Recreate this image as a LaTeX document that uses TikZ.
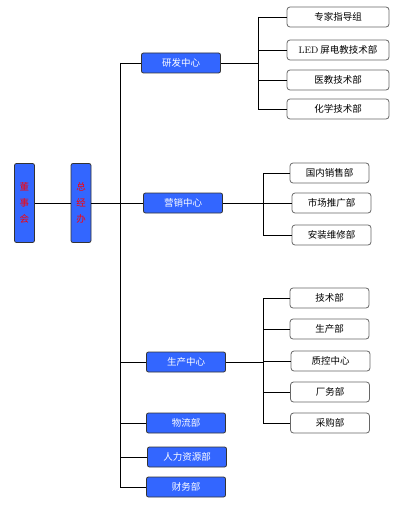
\documentclass[tikz,border=0pt]{standalone}
\usepackage{fontspec}
\newfontfamily\cjk{Noto Sans CJK SC}
\usetikzlibrary{positioning,calc}
\definecolor{boxblue}{HTML}{3366FF}

\begin{document}
\begin{tikzpicture}[
  x=1pt, y=-1pt,
  top/.style={draw=black!80, fill=boxblue, rounded corners=2pt, line width=0.8pt,
    minimum width=20pt, minimum height=79pt, inner sep=0pt, align=center,
    text=red, font=\cjk\fontsize{9.5}{16}\selectfont},
  ctr/.style={draw=black!80, fill=boxblue, rounded corners=2pt, line width=0.8pt,
    minimum width=79pt, minimum height=20pt, inner sep=0pt,
    text=white, font=\cjk\fontsize{9.5}{11}\selectfont},
  dept/.style={draw=black!60, fill=white, rounded corners=3pt, line width=0.8pt,
    minimum width=79pt, minimum height=20pt, inner sep=0pt,
    font=\cjk\fontsize{9.5}{11}\selectfont},
  link/.style={line width=0.8pt},
]
\useasboundingbox (0,0) rectangle (404,513);
% --- top level ---
\node[top] (dsh) at (24.5,203) {董\\事\\会};
\node[top] (zjb) at (81,203) {总\\经\\办};
\draw[link] (dsh) -- (zjb);
% --- centres ---
\node[ctr] (yf) at (181,63) {研发中心};
\node[ctr] (yx) at (183,203) {营销中心};
\node[ctr] (sc) at (186,362) {生产中心};
\node[ctr] (wl) at (186,423) {物流部};
\node[ctr] (rl) at (187,457) {人力资源部};
\node[ctr] (cw) at (186,487) {财务部};
\coordinate (sp) at (120,0);
\draw[link] (zjb.east) -- (yx.west);
\draw[link] (yf.west -| sp) -- (cw.west -| sp);
\foreach \n in {yf,sc,wl,rl,cw}
  \draw[link] (\n.west) -- (\n.west -| sp);
% --- research ---
\node[dept, minimum width=102pt] (zj) at (338,17) {专家指导组};
\node[dept, minimum width=102pt] (led) at (338,50) {{\rmfamily LED} 屏电教技术部};
\node[dept, minimum width=102pt] (yj) at (338,80) {医教技术部};
\node[dept, minimum width=102pt] (hx) at (338,109) {化学技术部};
\coordinate (b1) at (258,0);
\draw[link] (yf.east) -- (yf.east -| b1);
\draw[link] (zj.west -| b1) -- (hx.west -| b1);
\foreach \n in {zj,led,yj,hx}
  \draw[link] (\n.west) -- (\n.west -| b1);
% --- marketing ---
\node[dept] (gn) at (329.5,173) {国内销售部};
\node[dept] (tg) at (331.5,203) {市场推广部};
\node[dept] (az) at (331.5,235) {安装维修部};
\coordinate (b2) at (263,0);
\draw[link] (yx.east) -- (yx.east -| b2);
\draw[link] (gn.west -| b2) -- (az.west -| b2);
\foreach \n in {gn,tg,az}
  \draw[link] (\n.west) -- (\n.west -| b2);
% --- production ---
\node[dept] (js) at (329.5,298) {技术部};
\node[dept] (scb) at (329.5,329) {生产部};
\node[dept] (zk) at (330.5,361) {质控中心};
\node[dept] (cwb) at (330,392) {厂务部};
\node[dept] (cg) at (330,423) {采购部};
\coordinate (b3) at (263,0);
\draw[link] (sc.east) -- (sc.east -| b3);
\draw[link] (js.west -| b3) -- (cg.west -| b3);
\foreach \n in {js,scb,zk,cwb,cg}
  \draw[link] (\n.west) -- (\n.west -| b3);
\end{tikzpicture}
\end{document}
